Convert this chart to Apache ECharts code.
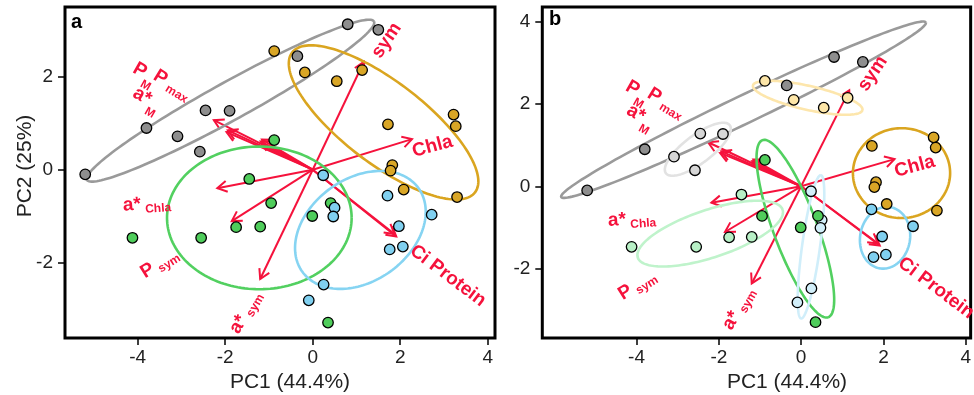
<!DOCTYPE html>
<html><head><meta charset="utf-8">
<script src="https://cdn.jsdelivr.net/npm/echarts@6/dist/echarts.min.js"></script>
<style>html,body{margin:0;padding:0;background:#fff}#c{width:974px;height:395px}</style>
</head><body><div id="c"></div>
<script>
// ---------- data (PCA scores) ----------
const darkGrey   = [[-5.20,-0.10],[-3.80,0.90],[-0.35,2.45],[0.80,3.14],[1.50,3.02]];
const lightGrey  = [[-3.09,0.72],[-2.58,0.39],[-2.45,1.28],[-1.90,1.27]];
const lightYellow= [[-0.88,2.56],[-0.18,2.10],[0.55,1.91],[1.13,2.15]];
const gold       = [[1.72,0.98],[3.22,1.19],[3.27,0.94],[1.82,0.10],[1.78,-0.02],[2.08,-0.43],[3.30,-0.59]];
const cyan       = [[1.71,-0.56],[2.72,-0.97],[1.97,-1.22],[2.06,-1.66],[1.76,-1.72]];
const lightCyan  = [[0.24,-0.12],[0.50,-0.82],[0.47,-1.01],[0.25,-2.48],[-0.09,-2.82]];
const green      = [[-0.88,0.64],[-0.95,-0.72],[-0.01,-1.00],[0.41,-0.72],[0.35,-3.30]];
const lightGreen = [[-1.45,-0.20],[-1.75,-1.24],[-1.20,-1.23],[-2.55,-1.47],[-4.12,-1.47]];

// loadings (arrow tips)
const loadX = [1.17, 2.27, 1.91, 1.87, -2.26, -1.97, -1.94, -1.19, -1.16, -2.18, -1.85, -1.20];
const loadY = [2.33, 0.66, -1.44, -1.39, 1.07, 0.81, 0.85, 0.61, 0.65, -0.40, -1.11, -2.36];

// ellipses: [cx, cy, ax, ay, bx, by] (centre + two conjugate semi-axes, data units)
const ellA = {
  grey:  [-1.88, 1.49, 3.28, 1.71, 0.21, -0.36],
  gold:  [1.62, 1.02, 2.09, -1.51, -0.57, -0.70],
  green: [-1.22, -1.04, 2.11, 0, 0, 1.54],
  cyan:  [1.09, -1.30, 1.33, 0.90, 0.68, -0.90]
};
const ellB = {
  darkGrey:   [-1.40, 1.86, 4.43, 2.12, 0.147, -0.306],
  lightGrey:  [-2.51, 0.90, 0.776, 0.583, 0.204, -0.272],
  lightYellow:[0.16, 2.15, 1.33, -0.30, -0.064, -0.284],
  gold:       [2.44, 0.32, 1.18, 0.05, -0.05, 1.09],
  cyan:       [2.04, -1.25, 0.145, 0.74, 0.594, -0.121],
  green:      [-0.14, -1.03, 0.80, -2.15, 0.50, 0.187],
  lightCyan:  [0.24, -1.47, 0.24, 1.74, 0.216, -0.03],
  lightGreen: [-2.21, -1.15, 1.76, 0.58, 0.18, -0.55]
};

// variable labels
const labelRich = ['{m|sym}','{m|Chla}','{m|Ci Protein}','{b|P}{t|M}','{b|P}{s|max}','{b|a*}{t|M}','{b|a*}{s|Chla}','{b|P}{s|sym}','{b|a*}{s|sym}'];
const labelRot  = [56, 15, -37, -30, -32, -30, 4, 32, 60];
const labelPosA = [[1.69,2.79],[2.74,0.50],[3.09,-2.29],[-3.88,2.02],[-3.22,1.81],[-3.83,1.46],[-3.79,-0.76],[-3.49,-2.04],[-1.52,-3.09]];
const labelPosB = [[1.74,2.74],[2.76,0.48],[3.28,-2.47],[-4.02,2.24],[-3.29,2.00],[-3.94,1.63],[-4.11,-0.82],[-3.97,-2.42],[-1.50,-2.98]];

const xTicks = [-4,-2,0,2,4];
const yTicksA = [-2,0,2];
const yTicksB = [-2,0,2,4];

// ---------- styling ----------
const RED = '#f5123c';
const FF = '"Liberation Sans", Arial, Helvetica, sans-serif';
const RICH = {
  m: {fontSize:19, fontWeight:'bold', fill:RED, fontFamily:FF},
  b: {fontSize:19, fontWeight:'bold', fill:RED, fontFamily:FF, verticalAlign:'top'},
  s: {fontSize:12, fontWeight:'bold', fill:RED, fontFamily:FF, verticalAlign:'top', padding:[9,0,0,4]},
  t: {fontSize:12, fontWeight:'bold', fill:RED, fontFamily:FF, verticalAlign:'top', padding:[14,0,0,1]}
};

const chart = echarts.init(document.getElementById('c'), null, {renderer:'canvas'});

function mkAxes(){
  const grids = [
    {left:65, top:7, width:430, height:331},
    {left:542.3, top:7, width:429.4, height:331}
  ].map(g => Object.assign({show:true, borderColor:'#000', borderWidth:3, backgroundColor:'transparent'}, g));
  const axCommon = (vals) => ({
    axisLine:{show:false, onZero:false}, splitLine:{show:false},
    axisTick:{show:true, inside:false, length:7, lineStyle:{color:'#000', width:1.5}, customValues:vals},
    axisLabel:{customValues:vals, color:'#222', fontSize:19, fontFamily:FF}
  });
  const xAxis = [
    Object.assign({type:'value', gridIndex:0, position:'bottom', min:-5.662, max:4.167}, axCommon(xTicks)),
    Object.assign({type:'value', gridIndex:1, position:'bottom', min:-6.29, max:4.12}, axCommon(xTicks))
  ];
  xAxis.forEach(a => a.axisLabel.margin = 10);
  const yAxis = [
    Object.assign({type:'value', gridIndex:0, position:'left', min:-3.633, max:3.512}, axCommon(yTicksA)),
    Object.assign({type:'value', gridIndex:1, position:'left', min:-3.685, max:4.355}, axCommon(yTicksB))
  ];
  yAxis.forEach(a => a.axisLabel.margin = 12);
  return {grids, xAxis, yAxis};
}

function ellipseSeries(gi, p, color, z){
  return {
    type:'custom', xAxisIndex:gi, yAxisIndex:gi, z:z, silent:true, clip:false,
    encode:{x:0, y:1},
    data:[p],
    renderItem(params, api){
      const cx=api.value(0), cy=api.value(1), ax=api.value(2), ay=api.value(3), bx=api.value(4), by=api.value(5);
      const pts=[];
      for(let i=0;i<=160;i++){
        const t=i/160*Math.PI*2, c=Math.cos(t), s=Math.sin(t);
        pts.push(api.coord([cx+ax*c+bx*s, cy+ay*c+by*s]));
      }
      return {type:'polyline', shape:{points:pts}, style:{stroke:color, lineWidth:2.6, fill:null}};
    }
  };
}

function arrowSeries(gi){
  return {
    type:'custom', xAxisIndex:gi, yAxisIndex:gi, z:1, silent:true, clip:false,
    encode:{x:0, y:1},
    data: loadX.map((x,i)=>[x, loadY[i]]),
    renderItem(params, api){
      const o = api.coord([0,0]);
      const t = api.coord([api.value(0), api.value(1)]);
      const ang = Math.atan2(t[1]-o[1], t[0]-o[0]);
      const L = 11, a = Math.PI/6;
      const h1 = [t[0]-L*Math.cos(ang-a), t[1]-L*Math.sin(ang-a)];
      const h2 = [t[0]-L*Math.cos(ang+a), t[1]-L*Math.sin(ang+a)];
      return {type:'group', children:[
        {type:'line', shape:{x1:o[0], y1:o[1], x2:t[0], y2:t[1]}, style:{stroke:RED, lineWidth:2}},
        {type:'polyline', shape:{points:[h1, t, h2]}, style:{stroke:RED, lineWidth:2, fill:null}}
      ]};
    }
  };
}

function labelSeries(gi, pos){
  return {
    type:'custom', xAxisIndex:gi, yAxisIndex:gi, z:6, silent:true, clip:false,
    encode:{x:0, y:1},
    data: pos.map((p,i)=>[p[0], p[1], i]),
    renderItem(params, api){
      const c = api.coord([api.value(0), api.value(1)]);
      const i = api.value(2);
      return {type:'text', x:c[0], y:c[1], rotation: labelRot[i]*Math.PI/180,
        style:{text: labelRich[i], rich: RICH, align:'center', verticalAlign:'middle',
               fill:RED, fontFamily:FF, fontWeight:'bold', fontSize:19}};
    }
  };
}

function scatter(gi, data, color){
  return {type:'scatter', xAxisIndex:gi, yAxisIndex:gi, z:4, data:data, symbolSize:10.5,
    itemStyle:{color:color, borderColor:'#000', borderWidth:1.3, opacity:1}, silent:true};
}

const ax = mkAxes();
const series = [
  arrowSeries(0),
  ellipseSeries(0, ellA.grey, '#9a9a9a', 2),
  ellipseSeries(0, ellA.gold, '#daa520', 2),
  ellipseSeries(0, ellA.green, '#52d060', 2),
  ellipseSeries(0, ellA.cyan, '#86d4f2', 2),
  scatter(0, darkGrey.concat(lightGrey), '#8e8e8e'),
  scatter(0, lightYellow.concat(gold), '#d9a626'),
  scatter(0, green.concat(lightGreen), '#4fcd5b'),
  scatter(0, cyan.concat(lightCyan), '#80d0f0'),
  labelSeries(0, labelPosA),

  arrowSeries(1),
  ellipseSeries(1, ellB.darkGrey, '#9a9a9a', 2),
  ellipseSeries(1, ellB.lightGrey, '#e2e2e2', 2),
  ellipseSeries(1, ellB.lightYellow, '#fde6ac', 2),
  ellipseSeries(1, ellB.gold, '#daa520', 2),
  ellipseSeries(1, ellB.cyan, '#86d4f2', 2),
  ellipseSeries(1, ellB.green, '#52d060', 2),
  ellipseSeries(1, ellB.lightCyan, '#d0eefa', 2),
  ellipseSeries(1, ellB.lightGreen, '#bff3cb', 2),
  scatter(1, darkGrey, '#8e8e8e'),
  scatter(1, lightGrey, '#d6d6d6'),
  scatter(1, lightYellow, '#fde6a8'),
  scatter(1, gold, '#d9a626'),
  scatter(1, cyan, '#80d0f0'),
  scatter(1, lightCyan, '#d2effa'),
  scatter(1, green, '#4fcd5b'),
  scatter(1, lightGreen, '#b8f0c6'),
  labelSeries(1, labelPosB)
];

chart.setOption({
  animation:false,
  backgroundColor:'#fff',
  grid: ax.grids, xAxis: ax.xAxis, yAxis: ax.yAxis,
  series: series,
  graphic: [
    {type:'text', left:71, top:12, style:{text:'a', fontSize:20, fontWeight:'bold', fill:'#000', fontFamily:FF}},
    {type:'text', left:549, top:9, style:{text:'b', fontSize:20, fontWeight:'bold', fill:'#000', fontFamily:FF}},
    {type:'text', x:290, y:382, style:{text:'PC1 (44.4%)', fontSize:21, fill:'#222', fontFamily:FF, align:'center', verticalAlign:'middle'}},
    {type:'text', x:787, y:382, style:{text:'PC1 (44.4%)', fontSize:21, fill:'#222', fontFamily:FF, align:'center', verticalAlign:'middle'}},
    {type:'text', x:25, y:166, rotation:Math.PI/2, style:{text:'PC2 (25%)', fontSize:21, fill:'#222', fontFamily:FF, align:'center', verticalAlign:'middle'}}
  ]
});
</script></body></html>
